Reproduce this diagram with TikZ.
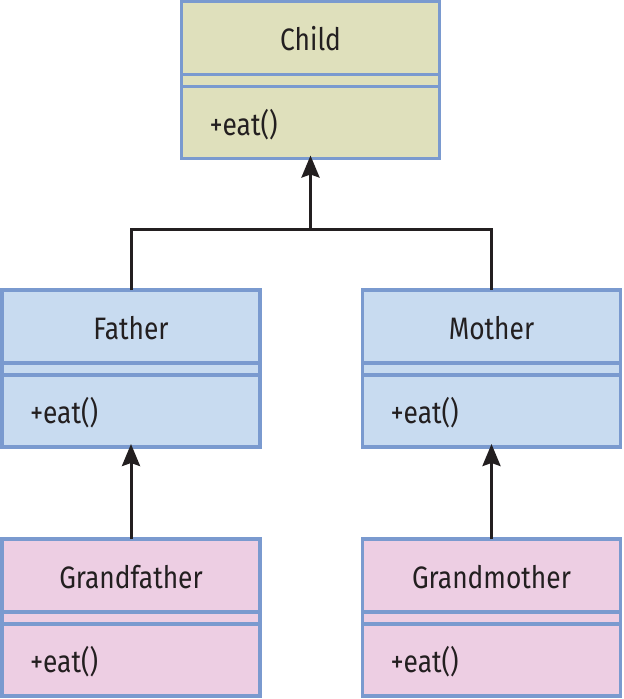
\documentclass[tikz,border=0pt]{standalone}
\usepackage{fontspec}
\setmainfont{Fira Sans}[FakeStretch=0.85]
\usepackage{tikz}
\usetikzlibrary{positioning,arrows.meta}

\definecolor{umlborder}{RGB}{122,154,207}
\definecolor{childfill}{RGB}{223,224,188}
\definecolor{parentfill}{RGB}{200,219,240}
\definecolor{grandfill}{RGB}{237,206,227}
\definecolor{ink}{RGB}{35,31,32}

\tikzset{
  part/.style={draw=umlborder,line width=3.2pt,rectangle,inner ysep=0pt,outer sep=0pt,
    text width=202pt,inner xsep=28pt,text=ink,
    font=\fontsize{31}{36}\selectfont,text height=26pt,text depth=1pt},
  classname/.style={part,minimum height=73pt,align=center},
  classattr/.style={part,minimum height=12pt,text height=0pt,text depth=0pt},
  classops/.style={part,minimum height=72pt,align=left},
  inherits/.style={draw=ink,line width=3pt,-{Stealth[length=22pt,width=18pt,inset=3pt]}},
  link/.style={draw=ink,line width=3pt}
}

\begin{document}
\begin{tikzpicture}[x=1pt,y=-1pt]
\useasboundingbox (0,0) rectangle (624,699);
% child class
\node[classname,fill=childfill,anchor=north west] (child) at (181.5,1.5) {Child};
\node[classattr,fill=childfill,below=0pt of child] (childattr) {};
\node[classops,fill=childfill,below=0pt of childattr] (childops) {+eat()};
% parents
\node[classname,fill=parentfill,anchor=north west] (father) at (2,290) {Father};
\node[classattr,fill=parentfill,below=0pt of father] (fatherattr) {};
\node[classops,fill=parentfill,below=0pt of fatherattr] (fatherops) {+eat()};
\node[classname,fill=parentfill,anchor=north west] (mother) at (362.5,290) {Mother};
\node[classattr,fill=parentfill,below=0pt of mother] (motherattr) {};
\node[classops,fill=parentfill,below=0pt of motherattr] (motherops) {+eat()};
% grandparents
\node[classname,fill=grandfill,anchor=north west] (grandfather) at (2,539) {Grandfather};
\node[classattr,fill=grandfill,below=0pt of grandfather] (grandfatherattr) {};
\node[classops,fill=grandfill,below=0pt of grandfatherattr] (grandfatherops) {+eat()};
\node[classname,fill=grandfill,anchor=north west] (grandmother) at (362.5,539) {Grandmother};
\node[classattr,fill=grandfill,below=0pt of grandmother] (grandmotherattr) {};
\node[classops,fill=grandfill,below=0pt of grandmotherattr] (grandmotherops) {+eat()};
% connectors
\draw[link] (father.north) -- ++(0,-61) coordinate (fork) -| (mother.north);
\draw[inherits] (fork -| childops.south) -- ([yshift=3pt]childops.south);
\draw[inherits] (grandfather.north) -- ([yshift=3pt]fatherops.south);
\draw[inherits] (grandmother.north) -- ([yshift=3pt]motherops.south);
\end{tikzpicture}
\end{document}
